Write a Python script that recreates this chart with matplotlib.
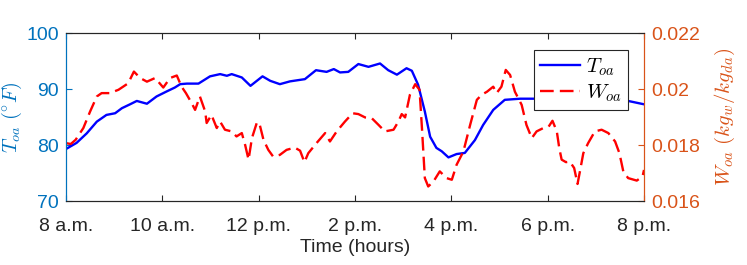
import matplotlib
matplotlib.use("Agg")
import matplotlib.pyplot as plt

plt.rcParams['font.family'] = ['Liberation Sans', 'DejaVu Sans']
plt.rcParams['mathtext.fontset'] = 'cm'

# Data (hours after 8 a.m.)
t_T = [0, 0.22, 0.43, 0.64, 0.84, 1.02, 1.16, 1.33, 1.47, 1.68, 1.88, 2.09, 2.26, 2.37,
       2.51, 2.75, 2.99, 3.20, 3.34, 3.44, 3.65, 3.83, 4.08, 4.24, 4.44, 4.65, 4.96, 5.19,
       5.41, 5.56, 5.69, 5.86, 6.07, 6.28, 6.52, 6.69, 6.87, 7.07, 7.18, 7.31, 7.45, 7.56,
       7.69, 7.80, 7.94, 8.11, 8.28, 8.49, 8.66, 8.87, 9.11, 9.43, 10.0, 10.5, 11.0, 11.4,
       11.67, 12.0]
T_oa = [79.3, 80.4, 82.1, 84.2, 85.4, 85.7, 86.6, 87.3, 87.9, 87.4, 88.7, 89.6, 90.3, 90.9,
        91.0, 91.0, 92.3, 92.7, 92.4, 92.7, 92.1, 90.6, 92.3, 91.5, 90.9, 91.4, 91.8, 93.4,
        93.1, 93.6, 93.0, 93.1, 94.5, 94.0, 94.6, 93.4, 92.6, 93.75, 93.3, 90.8, 86.0, 81.5,
        79.5, 78.9, 77.8, 78.4, 78.6, 80.9, 83.6, 86.3, 88.1, 88.3, 88.3, 88.3, 88.3, 88.2,
        87.9, 87.3]

t_W = [0, 0.1, 0.2, 0.36, 0.5, 0.64, 0.74, 0.91, 1.09, 1.29, 1.41, 1.54, 1.68, 1.85, 2.02,
       2.16, 2.30, 2.40, 2.49, 2.61, 2.68, 2.78, 2.89, 2.92, 3.02, 3.13, 3.20, 3.30, 3.44,
       3.54, 3.65, 3.72, 3.79, 3.86, 3.96, 4.01, 4.10, 4.20, 4.30, 4.44, 4.58, 4.75, 4.86,
       4.95, 5.03, 5.20, 5.38, 5.48, 5.62, 5.79, 5.95, 6.07, 6.21, 6.35, 6.49, 6.62, 6.80,
       6.90, 6.97, 7.04, 7.14, 7.25, 7.34, 7.39, 7.45, 7.52, 7.63, 7.76, 7.90, 8.01, 8.11,
       8.25, 8.39, 8.53, 8.63, 8.74, 8.87, 8.94, 9.04, 9.13, 9.22, 9.32, 9.46, 9.56, 9.67,
       9.77, 9.91, 10.02, 10.10, 10.19, 10.24, 10.29, 10.38, 10.46, 10.55, 10.62, 10.67,
       10.74, 10.84, 10.98, 11.12, 11.26, 11.40, 11.49, 11.57, 11.67, 11.85, 11.97, 12.0]
W_oa = [0.01807, 0.01804, 0.01819, 0.01861, 0.01920, 0.01974, 0.01986, 0.01986, 0.01998,
        0.02021, 0.02063, 0.02040, 0.02027, 0.02040, 0.02006, 0.02040, 0.02049, 0.02009,
        0.01986, 0.01950, 0.01926, 0.01974, 0.01920, 0.01879, 0.01908, 0.01861, 0.01884,
        0.01855, 0.01849, 0.01831, 0.01843, 0.01800, 0.01748, 0.01825, 0.01879, 0.01881,
        0.01819, 0.01783, 0.01759, 0.01765, 0.01783, 0.01791, 0.01780, 0.01739, 0.01771,
        0.01807, 0.01843, 0.01813, 0.01849, 0.01884, 0.01914, 0.01911, 0.01899, 0.01896,
        0.01872, 0.01849, 0.01855, 0.01884, 0.01911, 0.01899, 0.01980, 0.02018, 0.01998,
        0.01861, 0.01682, 0.01652, 0.01670, 0.01706, 0.01682, 0.01676, 0.01730, 0.01777,
        0.01872, 0.01962, 0.01980, 0.01991, 0.02009, 0.01986, 0.02009, 0.02069, 0.02051,
        0.01991, 0.01944, 0.01872, 0.01825, 0.01849, 0.01861, 0.01866, 0.01887, 0.01849,
        0.01790, 0.01748, 0.01739, 0.01741, 0.01718, 0.01661, 0.01706, 0.01771, 0.01807,
        0.01849, 0.01855, 0.01843, 0.01813, 0.01771, 0.01706, 0.01682, 0.01673, 0.01688,
        0.01711]

x_ticks = [0, 2, 4, 6, 8, 10, 12]
x_labels = ['8 a.m.', '10 a.m.', '12 p.m.', '2 p.m.', '4 p.m.', '6 p.m.', '8 p.m.']
T_ticks = [70, 80, 90, 100]
W_ticks = [0.016, 0.018, 0.020, 0.022]
W_labels = ['0.016', '0.018', '0.02', '0.022']

C_LEFT = '#0072BD'
C_RIGHT = '#D95319'
C_TXT = '#262626'

fig = plt.figure(figsize=(7.47, 2.65), dpi=100)
ax = fig.add_axes([66/747, 1-201/265, 578/747, (201-33.3)/265])
ax2 = ax.twinx()

l1, = ax.plot(t_T, T_oa, color='#0000FF', lw=1.7)
l2, = ax2.plot(t_W, W_oa, color='#FF0000', lw=1.7, linestyle='--')
l2.set_dashes([5.8, 2.6])

ax.set_xlim(0, 12)
ax.set_ylim(70, 100)
ax2.set_ylim(0.016, 0.022)
ax.set_xticks(x_ticks)
ax.set_xticklabels(x_labels)
ax.set_yticks(T_ticks)
ax2.set_yticks(W_ticks)
ax2.set_yticklabels(W_labels)

fs = 14
ax.tick_params(axis='x', direction='in', top=True, length=4, width=0.8, colors=C_TXT,
               labelsize=fs, pad=12.5)
ax.tick_params(axis='y', direction='in', length=4, width=0.8, colors=C_LEFT,
               labelsize=fs, pad=5)
ax2.tick_params(axis='y', direction='in', length=4, width=0.8, colors=C_RIGHT,
                labelsize=fs, pad=5)
ax2.tick_params(axis='x', top=False)

for a in (ax, ax2):
    a.spines['top'].set_color(C_TXT)
    a.spines['bottom'].set_color(C_TXT)
    a.spines['left'].set_color(C_LEFT)
    a.spines['right'].set_color(C_RIGHT)
    for s in a.spines.values():
        s.set_linewidth(0.8)

ax.set_xlabel('Time (hours)', fontsize=fs, color=C_TXT, labelpad=2.5)
ax.set_ylabel(r'$T_{oa}\ (^{\circ}F)$', fontsize=14.5, color=C_LEFT)
ax.yaxis.set_label_coords(-0.073, 0.5)
ax2.set_ylabel(r'$W_{oa}\ (kg_{w}/kg_{da})$', fontsize=15, color=C_RIGHT)
ax2.yaxis.set_label_coords(1.119, 0.5)

leg = ax2.legend([l1, l2], [r'$T_{oa}$', r'$W_{oa}$'], loc='upper right',
                 bbox_to_anchor=(628/747, 1-50/265), bbox_transform=fig.transFigure,
                 fontsize=15, frameon=True, fancybox=False, framealpha=1,
                 edgecolor=C_TXT, handlelength=1.9, handletextpad=0.3,
                 borderpad=0.3, labelspacing=0.2, borderaxespad=0)
leg.get_frame().set_linewidth(0.8)

fig.savefig('out.png', dpi=100)
